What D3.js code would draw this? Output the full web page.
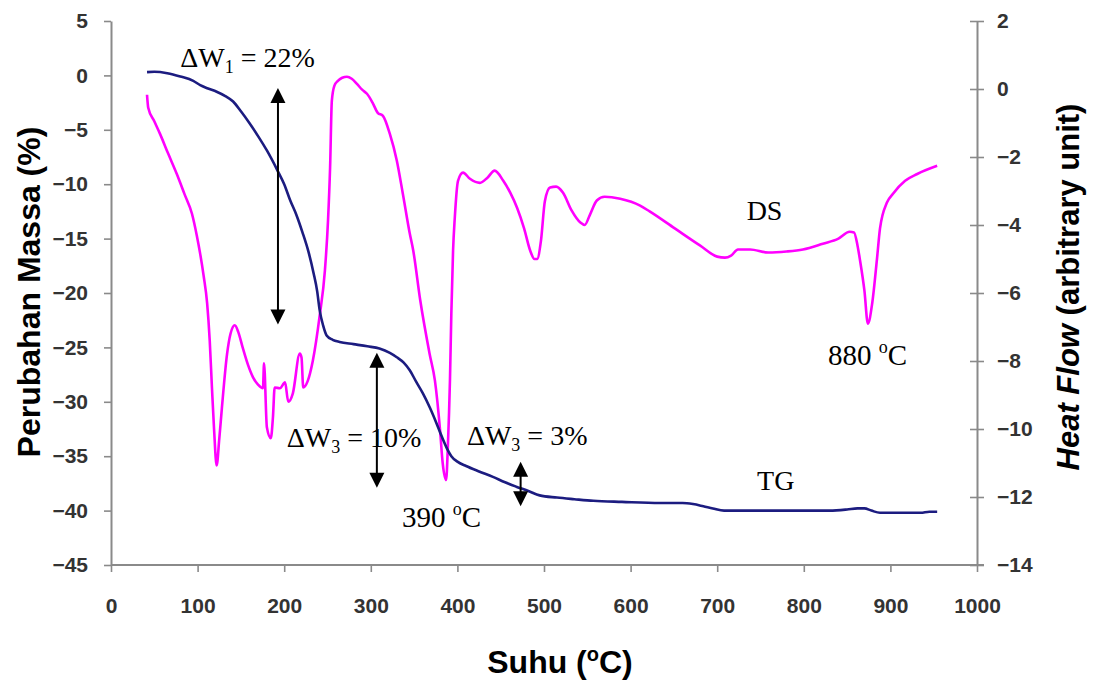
<!DOCTYPE html>
<html>
<head>
<meta charset="utf-8">
<script src="https://cdn.jsdelivr.net/npm/d3@7"></script>
<style>
  html, body { margin: 0; padding: 0; background: #fff; }
  svg { display: block; }
</style>
</head>
<body>
<svg id="chart" width="1093" height="680"></svg>
<script>
// ---------- DATA ----------
// TG curve: temperature (°C), mass change (%) — left axis
const tgTemp = [41.6,50,65,80,95,103,112,122,132,141,150,160,170,180,192,200,207,214,221,228,234,238,241,245,249,256,264,280,296,310,322,330,338,345,352,360,368,375,382,388,393,400,410,425,441,455,468,482,495,515,535,557,590,634,660,672,684,695,708,730,780,830,850,862,870,878,888,910,935,945,954];
const tgMass = [0.3,0.33,0.2,-0.1,-0.5,-0.9,-1.2,-1.5,-1.9,-2.4,-3.3,-4.4,-5.6,-6.9,-8.7,-10.0,-11.5,-12.8,-14.4,-16.2,-18.2,-19.8,-21.6,-23.0,-23.9,-24.3,-24.5,-24.7,-24.9,-25.1,-25.5,-25.9,-26.4,-27.1,-28.1,-29.2,-30.5,-31.8,-33.2,-34.3,-35.0,-35.5,-35.9,-36.4,-36.9,-37.4,-37.8,-38.2,-38.6,-38.8,-38.95,-39.1,-39.2,-39.3,-39.3,-39.4,-39.6,-39.8,-40.0,-40.0,-40.0,-40.0,-39.9,-39.8,-39.8,-40.0,-40.2,-40.2,-40.2,-40.1,-40.1];

// DS curve: temperature (°C), heat flow (arbitrary unit) — right axis
const dsTemp = [41.6,43,50,56.6,66,76,85,93.5,99,103,107,111,114,116.6,119,122,125,128,134,138,143,147,152,158,164,170,175.5,176.7,180,184.5,187,189,195,201,204.7,210,218,220,222,227,233,241,247,250.6,253,255,258,262,267,272.5,278,284,290,295.6,302,308,314,322,330,337,345,349,357,368,374,380,383,387,389,391.4,393,395,397,400.7,406.5,414.5,426,435,443,453,461,469,477,484,489,492,496.5,501,507,514,522,532,542,547,553,561,570,588,611,622,651,680,700,709,716,724,738,759,780,799,822,840,853,858,862,865,870,874,879,884.5,888,896,903,917,931,954];
const dsHeat = [-0.17,-0.55,-0.95,-1.32,-1.9,-2.5,-3.1,-3.67,-4.3,-4.85,-5.5,-6.3,-7.4,-8.8,-10.0,-11.07,-10.3,-9.4,-7.8,-7.2,-6.95,-7.15,-7.6,-8.1,-8.48,-8.7,-8.8,-8.07,-9.95,-10.27,-9.66,-8.78,-8.8,-8.63,-9.2,-8.95,-7.78,-7.9,-8.78,-8.6,-8.0,-6.66,-5.34,-3.87,-2.3,-0.35,0.1,0.24,0.33,0.36,0.3,0.15,-0.02,-0.14,-0.4,-0.7,-0.79,-1.32,-2.1,-3.08,-4.25,-4.75,-6.2,-7.8,-8.57,-10.04,-11.0,-11.5,-10.5,-8.57,-6.6,-4.75,-3.78,-2.7,-2.46,-2.64,-2.76,-2.6,-2.4,-2.7,-3.05,-3.5,-4.1,-4.75,-5.0,-5.0,-4.46,-3.3,-2.9,-2.87,-3.05,-3.58,-3.93,-4.0,-3.7,-3.28,-3.17,-3.23,-3.43,-3.6,-4.1,-4.6,-4.93,-4.96,-4.9,-4.72,-4.72,-4.81,-4.78,-4.72,-4.55,-4.4,-4.2,-4.22,-4.6,-5.05,-5.93,-6.9,-6.3,-5.0,-4.1,-3.34,-3.08,-2.7,-2.5,-2.26];

// Axis ticks
const xTicks = [0,100,200,300,400,500,600,700,800,900,1000];
const leftTicks = [5,0,-5,-10,-15,-20,-25,-30,-35,-40,-45];
const rightTicks = [2,0,-2,-4,-6,-8,-10,-12,-14];

// Annotation arrows (temperature, left-axis top value, left-axis bottom value)
const arrowT = [192.8, 307, 473];
const arrowTop = [-1.16, -25.5, -35.5];
const arrowBottom = [-22.9, -37.9, -39.6];

// ---------- CHART ----------
const svg = d3.select("#chart");
const x = d3.scaleLinear().domain([0, 1000]).range([111, 977]);
const yL = d3.scaleLinear().domain([-45, 5]).range([565, 21]);
const yR = d3.scaleLinear().domain([-14, 2]).range([565, 21]);

const axisColor = "#8a8a8a";
const labelColor = "#333";
const sans = "'Liberation Sans', Arial, sans-serif";
const serif = "'Liberation Serif', 'Times New Roman', serif";

// Left axis
const gL = svg.append("g").attr("transform", `translate(${x(0)},0)`)
  .call(d3.axisLeft(yL).tickValues(leftTicks).tickSizeInner(7).tickSizeOuter(0).tickPadding(16));
// Right axis
const gR = svg.append("g").attr("transform", `translate(${x(1000)},0)`)
  .call(d3.axisRight(yR).tickValues(rightTicks).tickSizeInner(7).tickSizeOuter(0).tickPadding(13));
gR.selectAll(".tick line").attr("x1", -7);
// Bottom axis
const gB = svg.append("g").attr("transform", `translate(0,${yL(-45)})`)
  .call(d3.axisBottom(x).tickValues(xTicks).tickFormat(d3.format("d")).tickSizeInner(7).tickSizeOuter(0).tickPadding(26));
gB.select(".domain").attr("d", `M${x(0)},0H${x(1000) + 7}`);

[gL, gR, gB].forEach(g => {
  g.select(".domain").attr("stroke", axisColor).attr("stroke-width", 2);
  g.selectAll(".tick line").attr("stroke", axisColor).attr("stroke-width", 1.6);
  g.selectAll(".tick text").attr("fill", labelColor)
    .style("font-family", sans).style("font-size", "21px").style("font-weight", "bold");
});

// Lines
const line = (xs, ys, yScale) => d3.line()
  .x(i => x(xs[i])).y(i => yScale(ys[i]))
  .curve(d3.curveMonotoneX)(d3.range(xs.length));

svg.append("path").attr("d", line(dsTemp, dsHeat, yR))
  .attr("fill", "none").attr("stroke", "#ff00ff").attr("stroke-width", 2.6)
  .attr("stroke-linejoin", "round");
svg.append("path").attr("d", line(tgTemp, tgMass, yL))
  .attr("fill", "none").attr("stroke", "#1c1c80").attr("stroke-width", 2.6)
  .attr("stroke-linejoin", "round");

// Arrows (double headed)
const headL = 15, headW = 7.5;
arrowT.forEach((t, i) => {
  const ax = x(t), y1 = yL(arrowTop[i]), y2 = yL(arrowBottom[i]);
  svg.append("line").attr("x1", ax).attr("x2", ax)
    .attr("y1", y1 + headL - 1).attr("y2", y2 - headL + 1)
    .attr("stroke", "#000").attr("stroke-width", 2);
  svg.append("path").attr("d", `M${ax},${y1}L${ax - headW},${y1 + headL}L${ax + headW},${y1 + headL}Z`).attr("fill", "#000");
  svg.append("path").attr("d", `M${ax},${y2}L${ax - headW},${y2 - headL}L${ax + headW},${y2 - headL}Z`).attr("fill", "#000");
});

// Annotation texts
function deltaText(t, v, sub, rest) {
  const tx = svg.append("text").attr("x", x(t)).attr("y", yL(v))
    .style("font-family", serif).style("font-size", "28px").attr("fill", "#000");
  tx.append("tspan").text("\u0394W");
  tx.append("tspan").attr("dy", 6).style("font-size", "18px").text(sub);
  tx.append("tspan").attr("dy", -6).text(rest);
}
deltaText(80, 0.77, "1", " = 22%");
deltaText(203, -34.2, "3", " = 10%");
deltaText(411, -34.0, "3", " = 3%");

function tempText(t, v, num) {
  const tx = svg.append("text").attr("x", x(t)).attr("y", yL(v))
    .style("font-family", serif).style("font-size", "29px").attr("fill", "#000");
  tx.append("tspan").text(num + " ");
  tx.append("tspan").attr("dy", -12).style("font-size", "18px").text("o");
  tx.append("tspan").attr("dy", 12).text("C");
}
tempText(336, -41.5, "390");
tempText(828, -26.6, "880");

svg.append("text").attr("x", x(734)).attr("y", yL(-13.3))
  .style("font-family", serif).style("font-size", "28px").text("DS");
svg.append("text").attr("x", x(746)).attr("y", yL(-38.1))
  .style("font-family", serif).style("font-size", "28px").text("TG");

// Axis titles
svg.append("text")
  .attr("transform", `translate(40,292) rotate(-90)`)
  .attr("text-anchor", "middle")
  .style("font-family", sans).style("font-size", "32px").style("font-weight", "bold")
  .text("Perubahan Massa (%)");

const tR = svg.append("text")
  .attr("transform", `translate(1079,287) rotate(-90)`)
  .attr("text-anchor", "middle")
  .style("font-family", sans).style("font-size", "31px").style("font-weight", "bold");
tR.append("tspan").style("font-style", "italic").text("Heat Flow");
tR.append("tspan").text(" (arbitrary unit)");

const tB = svg.append("text")
  .attr("x", 560).attr("y", 673)
  .attr("text-anchor", "middle")
  .style("font-family", sans).style("font-size", "32px").style("font-weight", "bold");
tB.append("tspan").text("Suhu (");
tB.append("tspan").attr("dy", -12).style("font-size", "20px").text("o");
tB.append("tspan").attr("dy", 12).text("C)");
</script>
</body>
</html>
